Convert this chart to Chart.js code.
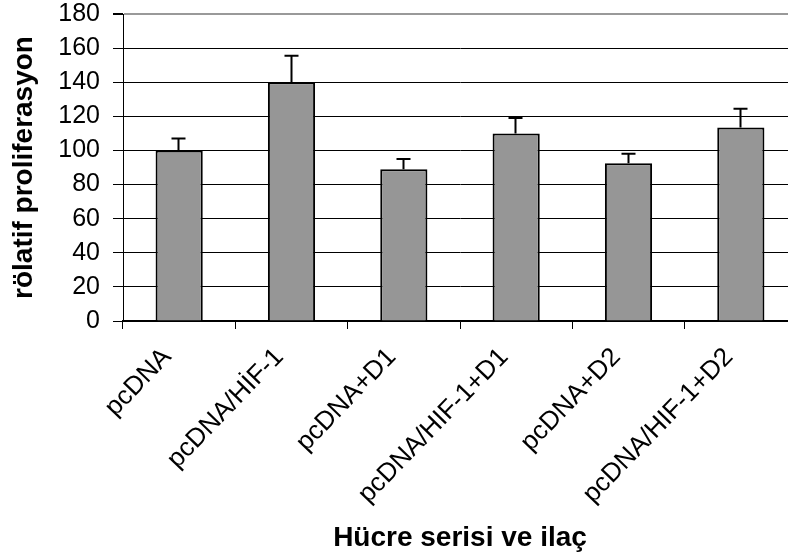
<!DOCTYPE html>
<html>
<head>
<meta charset="utf-8">
<script src="https://cdn.jsdelivr.net/npm/chart.js@4/dist/chart.umd.min.js"></script>
<style>
  html, body { margin: 0; padding: 0; background: #fff; overflow: hidden; }
  #wrap { width: 800px; height: 558px; }
</style>
</head>
<body>
<div id="wrap"><canvas id="c" width="800" height="558"></canvas></div>
<script>
const categories = ["pcDNA", "pcDNA/HİF-1", "pcDNA+D1", "pcDNA/HIF-1+D1", "pcDNA+D2", "pcDNA/HIF-1+D2"];
const values = [100, 140, 89, 110, 92.5, 113.5];
const errors = [7, 15.5, 6, 9, 5.5, 11];
const yTickStep = 20;
const yMin = 0;
const yMax = 180;
const yTitle = "rölatif proliferasyon";
const xTitle = "Hücre serisi ve ilaç";

const errorBarPlugin = {
  id: 'errorBars',
  afterDatasetsDraw(chart) {
    const ctx = chart.ctx;
    const y = chart.scales.y;
    const meta = chart.getDatasetMeta(0);
    ctx.save();
    ctx.strokeStyle = '#000';
    ctx.lineWidth = 2;
    meta.data.forEach((bar, i) => {
      const top = y.getPixelForValue(values[i] + errors[i]);
      const x = Math.round(bar.x) - 0.5;
      ctx.beginPath();
      ctx.moveTo(x, bar.y);
      ctx.lineTo(x, top);
      ctx.moveTo(x - 7, top);
      ctx.lineTo(x + 7, top);
      ctx.stroke();
    });
    ctx.restore();
  }
};

new Chart(document.getElementById('c'), {
  type: 'bar',
  data: {
    labels: categories,
    datasets: [{
      data: values,
      backgroundColor: '#969696',
      borderColor: '#000',
      borderWidth: 2,
      barPercentage: 0.42,
      categoryPercentage: 1.0
    }]
  },
  options: {
    responsive: false,
    animation: false,
    layout: { padding: { top: 0, right: 3, left: 0, bottom: 0 } },
    plugins: { legend: { display: false }, tooltip: { enabled: false } },
    scales: {
      x: {
        afterFit(scale) { scale.height = 237; scale.paddingLeft = 0; scale.paddingRight = 0; },
        grid: { drawOnChartArea: false, drawTicks: true, tickLength: 8, color: '#000', offset: true },
        border: { color: '#000', width: 1.5 },
        ticks: {
          color: '#000',
          font: { family: 'Liberation Sans, Arial, sans-serif', size: 26 },
          minRotation: 46, maxRotation: 46,
          padding: 13,
          labelOffset: -12,
          autoSkip: false
        },
        title: {
          display: true,
          text: xTitle,
          color: '#000',
          font: { family: 'Liberation Sans, Arial, sans-serif', size: 28, weight: 'bold' },
          padding: { top: 0, bottom: 3 }
        }
      },
      y: {
        min: yMin, max: yMax,
        afterFit(scale) { scale.width = 123; scale.paddingTop = 14; scale.paddingBottom = 0; },
        grid: {
          color: (c) => (c.tick && c.tick.value === yMax) ? '#999' : '#000',
          lineWidth: (c) => (c.tick && c.tick.value === yMax) ? 2 : 1,
          tickColor: '#000',
          tickLength: 10
        },
        border: { color: '#000', width: 1 },
        ticks: {
          color: '#000',
          stepSize: yTickStep,
          autoSkip: false,
          font: { family: 'Liberation Sans, Arial, sans-serif', size: 25 },
          padding: 13
        },
        title: {
          display: true,
          text: yTitle,
          color: '#000',
          font: { family: 'Liberation Sans, Arial, sans-serif', size: 28, weight: 'bold' },
          padding: { top: 7, bottom: 0 }
        }
      }
    }
  },
  plugins: [errorBarPlugin]
});
</script>
</body>
</html>
